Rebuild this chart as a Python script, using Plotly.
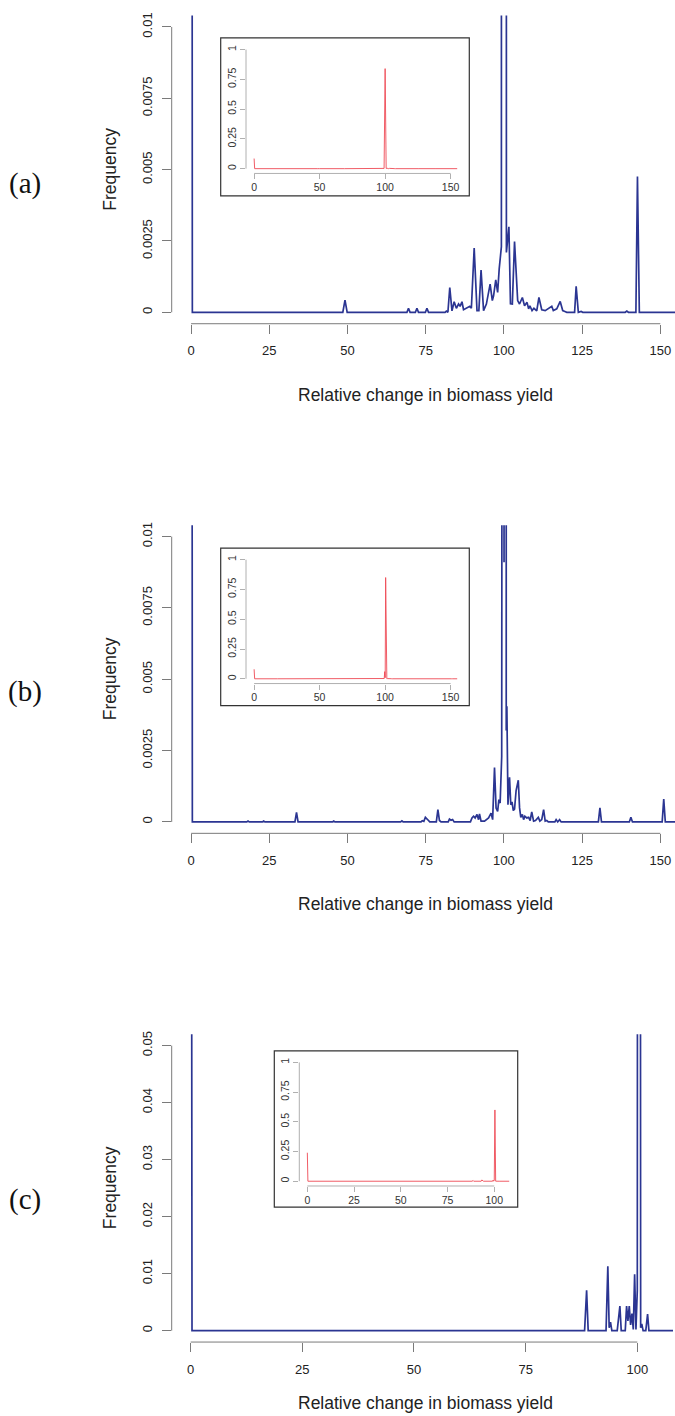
import plotly.graph_objects as go

# ---------------- data ----------------
# Panel (a)
a_x = [0, 0.4, 48.5, 49.2, 49.9, 69.0, 69.5, 70.0, 71.7, 72.2, 72.7, 74.9, 75.4, 75.9,
       81.2, 81.6, 82.1, 82.7, 83.4, 84.1, 84.8, 85.5, 86.0, 86.6, 87.1, 88.0, 89.1, 89.6,
       90.5, 91.4, 92.0, 92.7, 93.5, 94.4, 95.6, 96.3, 96.7, 97.4, 98.0, 98.5, 99.2,
       100.0, 100.8, 101.6, 102.1, 102.7, 103.4, 104.4, 105.0, 105.9, 106.6, 107.4, 107.9,
       108.3, 109.0, 109.6, 110.5, 111.2, 112.1, 113.2, 114.2, 115.3, 115.8, 116.9, 118.0,
       118.8, 119.5, 120.1, 122.6, 123.1, 123.8, 124.7, 125.2, 138.8, 139.3, 139.8, 142.2,
       142.7, 143.3, 155]
a_y = [0.085, 0, 0, 0.00043, 0, 0, 0.00014, 0, 0, 0.00014, 0, 0, 0.00014, 0,
       0, 0.00004, 0, 0.00087, 0.00005, 0.00037, 0.00014, 0.00029, 0.00021, 0.00037, 0.00009, 0.00014, 0.00021, 0.00014,
       0.00225, 0.00006, 0.00006, 0.00148, 0.00006, 0.00029, 0.00099, 0.00041, 0.00058, 0.00114, 0.0007, 0.00152, 0.0023,
       0.84, 0.0021, 0.0030, 0.0003, 0.00029, 0.00248, 0.00041, 0.00029, 0.00052, 0.00023, 0.00035, 0.00012,
       0.00023, 0.00006, 0.00014, 0.00005, 0.00052, 0.00009, 0.00006, 0.00012, 0.00021, 0.00006, 0.00012, 0.00038,
       0.00006, 0.00003, 0, 0, 0.00091, 0, 0.00003, 0, 0, 0.00004, 0, 0,
       0.00476, 0, 0]

# Panel (b)
b_x = [0, 0.4, 17.8, 18.2, 18.6, 22.8, 23.2, 23.6, 33.2, 33.7, 34.2, 45.2, 45.6, 46.0,
       67.0, 67.4, 67.8, 73.5, 73.9, 74.4, 74.9, 75.4, 75.9, 76.3, 78.4, 78.9, 79.4, 79.9,
       82.2, 82.6, 83.1, 83.6, 84.1, 89.3, 89.8, 90.3, 90.8, 91.4, 91.9, 92.2, 92.7, 93.8,
       94.3, 95.1, 95.9, 96.4, 97.0, 97.5, 98.0, 98.4, 98.8, 99.3, 99.7, 100.05, 100.4,
       100.75, 100.95, 101.3, 101.8, 102.2, 102.6, 103.0, 103.4, 103.9, 104.6, 105.0, 105.4,
       105.9, 106.3, 106.7, 107.3, 107.9, 108.4, 108.9, 109.5, 110.1, 111.0, 111.5, 112.1,
       112.7, 113.2, 113.7, 114.2, 116.3, 116.7, 117.2, 117.8, 118.3, 130.2, 130.7, 131.2,
       140.1, 140.6, 141.1, 150.6, 151.1, 151.6, 155]
b_y = [0.08, 0, 0, 0.00003, 0, 0, 0.00003, 0, 0, 0.00033, 0, 0, 0.00003, 0,
       0, 0.00004, 0, 0, 0.00004, 0.00002, 0.00016, 0.00012, 0.00005, 0, 0, 0.00043, 0.00005, 0,
       0, 0.0001, 0.00006, 0.00008, 0, 0, 0.00014, 0.0002, 0.00014, 0.00026, 0.00008, 0.00028, 0.00003, 0.00003,
       0.00008, 0.00014, 0.00031, 0.00008, 0.00191, 0.00049, 0.00037, 0.00078, 0.00066, 0.0023, 0.06, 0.0091, 0.85,
       0.0032, 0.00405, 0.0006, 0.00156, 0.0006, 0.0007, 0.0004, 0.00045, 0.0011, 0.00146, 0.0005, 0.00016,
       0.00026, 0.00008, 0.0002, 0.00014, 0.00016, 0.00005, 0.00035, 0.00003, 0.00005, 0.00016, 0.00003, 0.00008,
       0.00043, 0.00003, 0.00005, 0, 0, 0.00008, 0, 0.00008, 0, 0, 0.00049, 0,
       0, 0.00016, 0, 0, 0.0008, 0, 0]

# Panel (c)
c_x = [0, 0.3, 88.2, 88.65, 89.0, 93.0, 93.4, 93.7, 94.0, 94.3, 95.5, 95.8, 96.1, 96.4,
       97.3, 97.6, 97.9, 98.2, 98.5, 98.8, 99.1, 99.4, 99.7, 100.0, 100.35, 100.75, 101.0,
       101.3, 101.9, 102.3, 102.6, 108]
c_y = [0.24, 0, 0, 0.0071, 0, 0, 0.0113, 0.0005, 0.0015, 0, 0, 0.0017, 0.0043, 0,
       0, 0.0043, 0.0017, 0.0043, 0.001, 0.003, 0.0002, 0.0099, 0.0002, 0.0071, 0.6, 0.0005, 0.0012,
       0, 0, 0.0029, 0, 0]

# tick values / labels
ab_xticks = [0, 25, 50, 75, 100, 125, 150]
c_xticks = [0, 25, 50, 75, 100]
ab_yticks = [0, 0.0025, 0.005, 0.0075, 0.01]
ab_ylabels = ["0", "0.0025", "0.005", "0.0075", "0.01"]
c_yticks = [0, 0.01, 0.02, 0.03, 0.04, 0.05]
c_ylabels = ["0", "0.01", "0.02", "0.03", "0.04", "0.05"]
ab_inset_xticks = [0, 50, 100, 150]
c_inset_xticks = [0, 25, 50, 75, 100]
inset_yticks = [0, 0.25, 0.5, 0.75, 1]
inset_ylabels = ["0", "0.25", "0.5", "0.75", "1"]
panel_labels = ["(a)", "(b)", "(c)"]
x_title = "Relative change in biomass yield"
y_title = "Frequency"

# ---------------- layout helpers ----------------
W, H = 675, 1416
NAVY = "#2b3592"
RED = "#ee4a55"
AXC = "#7a7a7a"
INAXC = "#b0b0b0"


def fx(p):
    return p / W


def fy(p):
    return 1 - p / H


panels = [
    dict(x=a_x, y=a_y, xr=[-6.2, 154.7], yr=[-0.0004, 0.0104], xt=ab_xticks, yt=ab_yticks, yl=ab_ylabels,
         top=12.6, bot=321.4, title_y=393.3, lab_y=181,
         ixt=ab_inset_xticks, ixr=[-6.2, 161.2], ileft=246, iright=465.3, itop=41.9, ibot=170.8,
         box=(220.7, 35, 469.3, 193.3)),
    dict(x=b_x, y=b_y, xr=[-6.2, 154.7], yr=[-0.0004, 0.0104], xt=ab_xticks, yt=ab_yticks, yl=ab_ylabels,
         top=523.3, bot=832.1, title_y=902.5, lab_y=690,
         ixt=ab_inset_xticks, ixr=[-6.2, 161.2], ileft=246, iright=465.3, itop=41.9 + 511.2, ibot=170.8 + 511.2,
         box=(220.7, 546.2, 469.3, 704.2)),
    dict(x=c_x, y=c_y, xr=[-4.25, 108.44], yr=[-0.002, 0.052], xt=c_xticks, yt=c_yticks, yl=c_ylabels,
         top=1033.4, bot=1341.9, title_y=1403.3, lab_y=1199,
         ixt=c_inset_xticks, ixr=[-4.3, 110.4], ileft=299.3, iright=513.7, itop=1056.9, ibot=1185.5,
         box=(274.3, 1050, 517.7, 1206.7)),
]

fig = go.Figure()
layout = dict(width=W, height=H, margin=dict(l=0, r=0, t=0, b=0), showlegend=False,
              paper_bgcolor="white", plot_bgcolor="white", hovermode=False)
shapes = []
annotations = []

MAIN_FONT = "Liberation Sans, Arial, sans-serif"

for i, p in enumerate(panels):
    m = 2 * i + 1          # main axis index
    n = 2 * i + 2          # inset axis index
    mx = "x" if m == 1 else f"x{m}"
    my = "y" if m == 1 else f"y{m}"
    nx, ny = f"x{n}", f"y{n}"
    mxk = "xaxis" if m == 1 else f"xaxis{m}"
    myk = "yaxis" if m == 1 else f"yaxis{m}"

    # inset background box
    x0, y0, x1, y1 = p["box"]
    shapes.append(dict(type="rect", xref="paper", yref="paper", x0=fx(x0), x1=fx(x1), y0=fy(y1), y1=fy(y0),
                       line=dict(color="#333333", width=1.2), fillcolor="white", layer="below"))

    # main trace
    fig.add_trace(go.Scatter(x=p["x"], y=p["y"], mode="lines", xaxis=mx, yaxis=my,
                             line=dict(color=NAVY, width=1.7), hoverinfo="skip"))
    # inset trace
    fig.add_trace(go.Scatter(x=p["x"], y=p["y"], mode="lines", xaxis=nx, yaxis=ny,
                             line=dict(color=RED, width=0.9), hoverinfo="skip"))

    layout[mxk] = dict(domain=[fx(171.7), 1], range=p["xr"], anchor=my, showgrid=False, zeroline=False,
                       showline=False, ticks="outside", ticklen=9, tickcolor=AXC, tickwidth=1,
                       tickvals=p["xt"], ticktext=[str(v) for v in p["xt"]],
                       tickfont=dict(family=MAIN_FONT, size=13, color="#222222"), ticklabelstandoff=6)
    layout[myk] = dict(domain=[fy(p["bot"]), fy(p["top"])], range=p["yr"], anchor=mx, showgrid=False,
                       zeroline=False, showline=False, ticks="outside", ticklen=9, tickcolor=AXC, tickwidth=1,
                       tickvals=p["yt"], ticktext=p["yl"], tickangle=-90,
                       tickfont=dict(family=MAIN_FONT, size=13, color="#222222"), ticklabelstandoff=5)
    layout[f"xaxis{n}"] = dict(domain=[fx(p["ileft"]), fx(p["iright"])], range=p["ixr"], anchor=ny,
                               showgrid=False, zeroline=False, showline=False, ticks="outside", ticklen=5,
                               tickcolor=INAXC, tickwidth=1, tickvals=p["ixt"],
                               ticktext=[str(v) for v in p["ixt"]],
                               tickfont=dict(family=MAIN_FONT, size=10.5, color="#333333"), ticklabelstandoff=-1)
    layout[f"yaxis{n}"] = dict(domain=[fy(p["ibot"]), fy(p["itop"])], range=[-0.04, 1.04], anchor=nx,
                               showgrid=False, zeroline=False, showline=False, ticks="outside", ticklen=5,
                               tickcolor=INAXC, tickwidth=1, tickvals=inset_yticks, ticktext=inset_ylabels,
                               tickangle=-90, tickfont=dict(family=MAIN_FONT, size=10.5, color="#333333"),
                               ticklabelstandoff=0)

    # axis lines spanning first to last tick (R style)
    shapes.append(dict(type="line", xref=f"{mx} domain", yref=my, x0=0, x1=0, y0=p["yt"][0], y1=p["yt"][-1],
                       line=dict(color=AXC, width=1)))
    shapes.append(dict(type="line", xref=mx, yref=f"{my} domain", x0=p["xt"][0], x1=p["xt"][-1], y0=0, y1=0,
                       line=dict(color=AXC, width=1)))
    shapes.append(dict(type="line", xref=f"{nx} domain", yref=ny, x0=0, x1=0, y0=inset_yticks[0],
                       y1=inset_yticks[-1], line=dict(color=INAXC, width=1)))
    shapes.append(dict(type="line", xref=nx, yref=f"{ny} domain", x0=p["ixt"][0], x1=p["ixt"][-1], y0=0, y1=0,
                       line=dict(color=INAXC, width=1)))

    # titles and panel labels
    annotations.append(dict(text=x_title, xref="paper", yref="paper", x=fx(425.4), y=fy(p["title_y"]),
                            showarrow=False, xanchor="center", yanchor="middle",
                            font=dict(family=MAIN_FONT, size=17.5, color="#222222")))
    annotations.append(dict(text=y_title, xref="paper", yref="paper", x=fx(110), y=fy((p["top"] + p["bot"]) / 2),
                            showarrow=False, xanchor="center", yanchor="middle", textangle=-90,
                            font=dict(family=MAIN_FONT, size=17.5, color="#222222")))
    annotations.append(dict(text=panel_labels[i], xref="paper", yref="paper", x=fx(25), y=fy(p["lab_y"]),
                            showarrow=False, xanchor="center", yanchor="middle",
                            font=dict(family="Liberation Serif, Times New Roman, serif", size=29, color="#111111")))

layout["shapes"] = shapes
layout["annotations"] = annotations
fig.update_layout(**layout)

fig.write_html(
    "out.html",
    config={"displayModeBar": False, "staticPlot": True},
    post_script="document.body.style.margin='0';document.body.style.padding='0';"
                "document.body.style.overflow='hidden';",
)
